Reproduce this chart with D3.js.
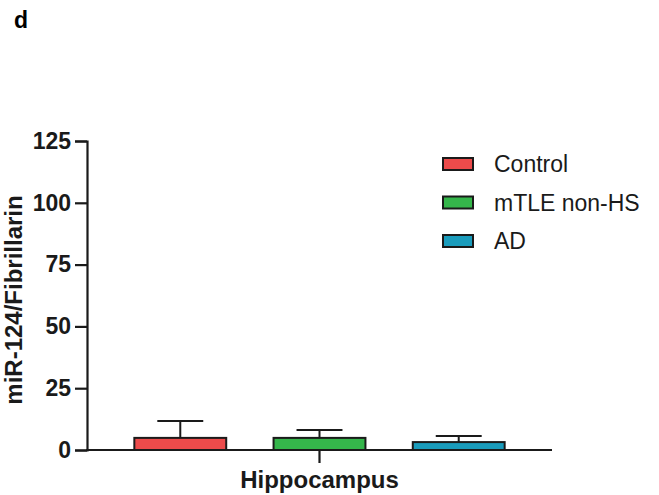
<!DOCTYPE html>
<html lang="en">
<head>
<meta charset="UTF-8">
<title>miR-124 / Fibrillarin</title>
<script src="https://cdn.jsdelivr.net/npm/d3@7"></script>
<style>
    body { margin: 0; background: #fff; }
    svg { display: block; font-family: "Liberation Sans", Arial, sans-serif; }
</style>
</head>
<body>
<div id="chart"></div>
<script>
    // data
    const groups = ["Control", "mTLE non-HS", "AD"];
    const means = [4.9, 4.9, 3.2];
    const errors = [6.8, 3.2, 2.5];
    const colors = ["#ec4b4b", "#35b64b", "#1a9cbc"];
    const yTicks = [0, 25, 50, 75, 100, 125];
    const category = "Hippocampus";

    const width = 659, height = 495;
    const svg = d3.select("#chart").append("svg")
        .attr("width", width)
        .attr("height", height);

    const y = d3.scaleLinear().domain([0, 125]).range([450, 141]);
    const x = d3.scaleBand().domain(groups).range([87, 552])
        .paddingInner(0.34).paddingOuter(0.34);

    // panel letter
    svg.append("text")
        .attr("x", 14).attr("y", 28)
        .attr("font-size", 23).attr("font-weight", "bold")
        .text("d");

    // bars
    const bars = svg.append("g");
    groups.forEach((g, i) => {
        const cx = x(g) + x.bandwidth() / 2;
        const top = y(means[i]);
        const capY = y(means[i] + errors[i]);
        bars.append("line")
            .attr("x1", cx).attr("x2", cx)
            .attr("y1", top).attr("y2", capY)
            .attr("stroke", "#1a1a1a").attr("stroke-width", 2);
        bars.append("line")
            .attr("x1", cx - x.bandwidth() / 4).attr("x2", cx + x.bandwidth() / 4)
            .attr("y1", capY).attr("y2", capY)
            .attr("stroke", "#1a1a1a").attr("stroke-width", 2);
        bars.append("rect")
            .attr("x", x(g)).attr("y", top)
            .attr("width", x.bandwidth()).attr("height", y(0) - top)
            .attr("fill", colors[i])
            .attr("stroke", "#1a1a1a").attr("stroke-width", 2);
    });

    // y axis
    const yAxis = svg.append("g")
        .attr("transform", "translate(87,0)")
        .call(d3.axisLeft(y).tickValues(yTicks).tickSize(12).tickPadding(4));
    yAxis.select(".domain").attr("stroke", "#1a1a1a").attr("stroke-width", 2.2);
    yAxis.selectAll(".tick line").attr("stroke", "#1a1a1a").attr("stroke-width", 2.2);
    yAxis.selectAll(".tick text")
        .attr("font-size", 23).attr("font-weight", "bold")
        .attr("fill", "#1a1a1a")
        .attr("font-family", "Liberation Sans, Arial, sans-serif");

    // x axis line + centre tick
    svg.append("line")
        .attr("x1", 86).attr("x2", 552)
        .attr("y1", y(0)).attr("y2", y(0))
        .attr("stroke", "#1a1a1a").attr("stroke-width", 2.2);
    const midX = (x.range()[0] + x.range()[1]) / 2;
    svg.append("line")
        .attr("x1", midX).attr("x2", midX)
        .attr("y1", y(0)).attr("y2", y(0) + 13)
        .attr("stroke", "#1a1a1a").attr("stroke-width", 2.2);
    svg.append("text")
        .attr("x", midX).attr("y", 488)
        .attr("text-anchor", "middle")
        .attr("font-size", 24).attr("font-weight", "bold")
        .attr("fill", "#1a1a1a")
        .text(category);

    // y label
    svg.append("text")
        .attr("transform", "translate(22,300) rotate(-90)")
        .attr("text-anchor", "middle")
        .attr("font-size", 24).attr("font-weight", "bold")
        .attr("fill", "#1a1a1a")
        .text("miR-124/Fibrillarin");

    // legend
    const legend = svg.append("g").attr("transform", "translate(443,158)");
    groups.forEach((g, i) => {
        const row = legend.append("g").attr("transform", `translate(0,${i * 38.5})`);
        row.append("rect")
            .attr("width", 30).attr("height", 12)
            .attr("fill", colors[i])
            .attr("stroke", "#1a1a1a").attr("stroke-width", 2);
        row.append("text")
            .attr("x", 51).attr("y", 14)
            .attr("font-size", 23)
            .attr("fill", "#1a1a1a")
            .text(g);
    });
</script>
</body>
</html>
